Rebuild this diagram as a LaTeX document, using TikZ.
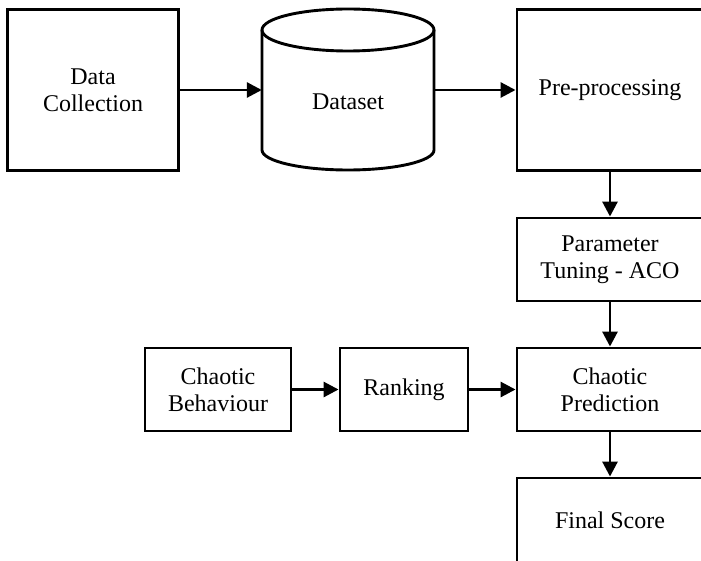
\documentclass[tikz,border=0pt]{standalone}
\usepackage{fontspec}
\setmainfont{Liberation Serif}
\usetikzlibrary{arrows.meta}
\tikzset{
  box/.style={draw, line width=2.9pt, align=center, inner sep=0pt,
    font=\fontsize{24}{27}\selectfont},
  flow/.style={line width=2.9pt, -{Triangle[length=15pt,width=15pt]}},
}
\begin{document}
\begin{tikzpicture}[x=1pt,y=-1pt]
\useasboundingbox (0,0) rectangle (701,561);
\clip (0,0) rectangle (701,561);
% top row
\node[box, minimum width=171pt, minimum height=161pt] (collect) at (93,90) {Data\\Collection};
\node[align=center, inner sep=0pt, minimum width=172pt, minimum height=161pt] (ds) at (348,90) {};
\node[font=\fontsize{24}{27}\selectfont] (dslabel) at (348,102) {Dataset};
% cylinder outline
\draw[line width=2.9pt] (348,30) ellipse [x radius=86, y radius=21];
\draw[line width=2.9pt] (262,30) -- (262,150) arc[start angle=180, end angle=360, x radius=86, y radius=-20] -- (434,30);
\node[box, minimum width=186pt, minimum height=161pt] (pre) at (610,90) {Pre-processing};
% right column
\node[box, minimum width=186pt, minimum height=83pt] (tune) at (610,259.5) {Parameter\\Tuning - ACO};
\node[box, minimum width=186pt, minimum height=83pt] (pred) at (610,389.5) {Chaotic\\Prediction};
\node[box, minimum width=186pt, minimum height=84pt] (final) at (610,520) {Final Score};
% middle row
\node[box, minimum width=146pt, minimum height=83pt] (behav) at (218,389.5) {Chaotic\\Behaviour};
\node[box, minimum width=128pt, minimum height=83pt] (rank) at (404,389.5) {Ranking};
% connectors
\draw[flow] (collect.east) -- (ds.west);
\draw[flow] (ds.east) -- (pre.west);
\draw[flow] (pre.south) -- (tune.north);
\draw[flow] (tune.south) -- (pred.north);
\draw[flow] (pred.south) -- (final.north);
\draw[flow] (behav.east) -- (rank.west);
\draw[flow] (rank.east) -- (pred.west);
\end{tikzpicture}
\end{document}
